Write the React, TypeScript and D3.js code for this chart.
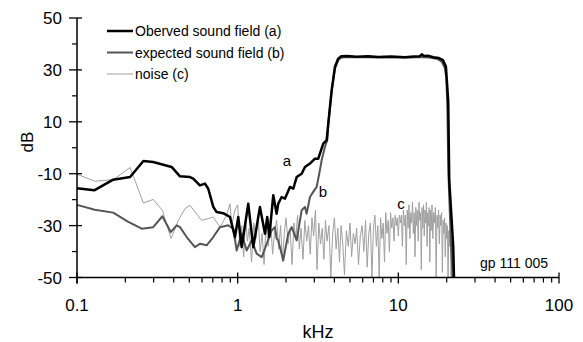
import React from "react";
import * as d3 from "d3";

// Observed sound field (a): [kHz, dB]
const observedA: [number, number][] = [
  [0.1, -15.6], [0.128, -16.4], [0.168, -12.3], [0.214, -11.3], [0.259, -5.1], [0.298, -5.5],
  [0.388, -7.4], [0.4375, -11], [0.505, -11.3], [0.529, -11.9], [0.582, -14.5], [0.626, -13.8],
  [0.656, -15.8], [0.705, -22.8], [0.74, -24.8], [0.813, -25.2], [0.896, -26.7], [0.962, -34.4],
  [1.009, -26.7], [1.059, -38.3], [1.164, -21.6], [1.251, -38.3], [1.376, -22.8], [1.479, -33.1],
  [1.528, -26.7], [1.573, -34.4], [1.666, -18.3], [1.748, -25.4], [1.789, -21.6], [1.878, -19],
  [1.97, -19.6], [2.116, -15.1], [2.218, -15.8], [2.329, -11.3], [2.502, -10], [2.623, -7.4],
  [2.818, -6.1], [3.027, -4.2], [3.174, -4.2], [3.41, 1.6], [3.58, 2.9], [3.664, 9.3],
  [3.846, 22.2], [4.032, 31.2], [4.227, 34.4], [4.437, 35.3], [4.8, 35.4], [5.5, 35.1],
  [6.5, 35.3], [7.5, 35.0], [9, 35.2], [11, 34.9], [12.5, 35.2], [13.6, 35.3], [14, 36],
  [14.4, 35.4], [15.3, 35.5], [16.5, 34.9], [17.8, 34.6], [18.95, 33.8], [19.78, 31.2],
  [20.44, 18], [20.74, -12.5], [21.96, -38], [22.2, -50],
];

// Expected sound field (b)
const expectedB: [number, number][] = [
  [0.1, -22], [0.129, -23.9], [0.168, -25], [0.2086, -28.6], [0.2528, -31.2], [0.298, -30.6],
  [0.34, -26.4], [0.383, -32.5], [0.4174, -29.9], [0.4375, -30.6], [0.4815, -34.4], [0.542, -38.3],
  [0.582, -37], [0.641, -37.6], [0.705, -34.4], [0.776, -30.6], [0.874, -29.9], [0.939, -31.2],
  [0.986, -39.6], [1.059, -33.1], [1.138, -39.6], [1.222, -35.7], [1.313, -40.8], [1.411, -42.2],
  [1.516, -37], [1.628, -31.9], [1.706, -30.6], [1.748, -35], [1.789, -35.7], [1.922, -43.4],
  [2.064, -33.1], [2.168, -30.6], [2.329, -35.7], [2.502, -24.1], [2.623, -22.8], [2.688, -25.4],
  [2.818, -19], [2.954, -17], [3.101, -15.1], [3.219, -10], [3.332, -4.8], [3.493, 0.3],
  [3.611, 2.9], [3.664, 9.0], [3.846, 21.5], [4.032, 30.5], [4.227, 33.8], [4.437, 34.8],
  [4.8, 35.0], [6, 34.9], [8, 34.8], [10, 34.9], [12, 34.8], [14, 35.0], [16, 34.7],
  [17.5, 34.2], [18.6, 33.2], [19.4, 31], [19.9, 27], [20.2, 15], [20.5, -10], [21.2, -35],
  [21.8, -50],
];

// Noise (c)
const noiseC: [number, number][] = [
  [0.1, -10.2], [0.129, -12.9], [0.168, -12.3], [0.214, -7.6], [0.259, -21.3], [0.298, -19.9],
  [0.34, -24.1], [0.385, -35], [0.427, -28], [0.47, -23.5], [0.505, -22.2], [0.597, -28],
  [0.705, -26.7], [0.776, -30.6], [0.854, -26], [0.896, -21.6], [0.918, -29.9], [0.962, -24],
  [1.0, -22], [1.03, -38], [1.06, -30], [1.09, -42], [1.12, -27], [1.15, -36], [1.18, -31],
  [1.22, -44], [1.26, -29], [1.3, -35], [1.34, -26], [1.38, -40], [1.42, -33], [1.46, -45],
  [1.5, -30], [1.55, -38], [1.6, -27], [1.65, -41], [1.7, -32], [1.75, -28], [1.8, -39],
  [1.85, -30], [1.9, -44], [1.95, -33], [2.0, -27], [2.06, -37], [2.12, -31], [2.18, -45],
  [2.24, -29], [2.3, -35], [2.36, -26], [2.42, -39], [2.48, -31], [2.55, -43], [2.62, -28],
  [2.69, -36], [2.76, -30], [2.83, -41], [2.9, -27], [2.97, -34], [3.05, -24], [3.12, -47],
  [3.2, -29], [3.28, -37], [3.36, -31], [3.44, -43], [3.52, -28], [3.6, -36], [3.7, -30],
  [3.8, -50], [3.9, -33], [4.0, -27], [4.1, -39], [4.2, -31], [4.3, -44], [4.4, -30],
  [4.5, -36], [4.62, -49], [4.75, -32], [4.88, -38], [5.0, -29], [5.12, -42], [5.25, -33],
  [5.38, -37], [5.5, -31], [5.65, -45], [5.8, -34], [5.95, -30], [6.1, -40], [6.25, -28],
  [6.4, -46], [6.55, -33], [6.7, -29], [6.85, -50], [7.0, -31], [7.15, -26], [7.3, -38],
  [7.45, -30], [7.6, -50], [7.75, -27], [7.9, -35], [8.05, -29], [8.2, -44], [8.35, -25],
  [8.5, -33], [8.65, -28], [8.8, -40], [8.95, -25], [9.1, -31], [9.25, -27], [9.4, -36],
  [9.55, -26], [9.7, -30], [9.85, -27], [10.0, -34], [10.15, -26], [10.3, -29], [10.45, -26],
  [10.6, -38], [10.75, -24], [10.9, -30], [11.05, -26], [11.2, -45], [11.35, -24], [11.5, -31],
  [11.65, -22], [11.8, -35], [11.95, -25], [12.1, -29], [12.25, -21], [12.4, -33], [12.55, -25],
  [12.7, -42], [12.85, -23], [13.0, -30], [13.15, -24], [13.3, -36], [13.45, -21], [13.6, -28],
  [13.75, -25], [13.9, -47], [14.05, -23], [14.2, -31], [14.35, -22], [14.5, -34], [14.65, -24],
  [14.8, -29], [14.95, -21], [15.1, -38], [15.25, -25], [15.4, -30], [15.55, -23], [15.7, -44],
  [15.85, -24], [16.0, -32], [16.2, -22], [16.4, -35], [16.6, -25], [16.8, -29], [17.0, -23],
  [17.2, -50], [17.4, -26], [17.6, -31], [17.8, -24], [18.0, -37], [18.2, -26], [18.4, -30],
  [18.6, -25], [18.8, -48], [19.0, -28], [19.2, -33], [19.4, -27], [19.6, -42], [19.8, -29],
  [20.0, -35], [20.2, -30], [20.4, -50], [20.6, -32], [20.8, -38], [21.0, -31], [21.3, -50],
  [21.6, -36], [21.9, -50], [22.2, -50],
];

const yMajor = [50, 30, 10, -10, -30, -50];
const yMinor = [40, 20, 0, -20, -40];
const xMajor = [0.1, 1, 10, 100];
const xMajorLabels = ["0.1", "1", "10", "100"];
const xMinor = [0.2, 0.3, 0.4, 0.5, 0.6, 0.7, 0.8, 0.9, 2, 3, 4, 5, 6, 7, 8, 9, 20, 30, 40, 50, 60, 70, 80, 90];

const legendItems = [
  { label: "Oberved sound field (a)", color: "#000", width: 2.5 },
  { label: "expected sound field (b)", color: "#555", width: 2 },
  { label: "noise (c)", color: "#a0a0a0", width: 1 },
];

const W = 583;
const H = 342;
const FONT = "'Liberation Sans', Arial, Helvetica, sans-serif";

export default function App() {
  const x = d3.scaleLog().domain([0.1, 100]).range([77, 559]);
  const y = d3.scaleLinear().domain([-50, 50]).range([277.5, 18]);
  const line = d3
    .line<[number, number]>()
    .x((d) => x(d[0]))
    .y((d) => y(d[1]));

  const x0 = x(0.1);
  const yBase = y(-50);

  return (
    <svg width={W} height={H} style={{ position: "absolute", left: 0, top: 0, background: "#fff" }} fontFamily={FONT}>
      <rect width={W} height={H} fill="#fff" />
      {/* series */}
      <path d={line(noiseC) || ""} fill="none" stroke="#a0a0a0" strokeWidth={1} strokeLinejoin="round" />
      <path d={line(expectedB) || ""} fill="none" stroke="#555" strokeWidth={2} strokeLinejoin="round" />
      <path d={line(observedA) || ""} fill="none" stroke="#000" strokeWidth={2.5} strokeLinejoin="round" />

      {/* y axis */}
      <line x1={x0} x2={x0} y1={y(50)} y2={yBase + 6} stroke="#000" strokeWidth={1.5} />
      {yMajor.map((v) => (
        <g key={"ym" + v}>
          <line x1={x0 - 8} x2={x0 + 5} y1={y(v)} y2={y(v)} stroke="#000" strokeWidth={1.3} />
          <text x={62} y={y(v)} dy="0.36em" textAnchor="end" fontSize={17}>
            {v}
          </text>
        </g>
      ))}
      {yMinor.map((v) => (
        <line key={"yn" + v} x1={x0 - 5} x2={x0} y1={y(v)} y2={y(v)} stroke="#000" strokeWidth={1.2} />
      ))}

      {/* x axis */}
      <line x1={x0} x2={x(100)} y1={yBase} y2={yBase} stroke="#000" strokeWidth={1.5} />
      {xMajor.map((v, i) => (
        <g key={"xm" + v}>
          <line x1={x(v)} x2={x(v)} y1={yBase - 5} y2={yBase + 6} stroke="#000" strokeWidth={1.3} />
          <text x={x(v)} y={311} textAnchor="middle" fontSize={17}>
            {xMajorLabels[i]}
          </text>
        </g>
      ))}
      {xMinor.map((v) => (
        <line key={"xn" + v} x1={x(v)} x2={x(v)} y1={yBase} y2={yBase + 5} stroke="#000" strokeWidth={1.2} />
      ))}

      {/* axis titles */}
      <text x={318} y={338} textAnchor="middle" fontSize={18}>
        kHz
      </text>
      <text transform="translate(33,142) rotate(-90)" textAnchor="middle" fontSize={17}>
        dB
      </text>

      {/* legend */}
      {legendItems.map((it, i) => (
        <g key={it.label}>
          <line x1={107} x2={133} y1={31 + i * 21.5} y2={31 + i * 21.5} stroke={it.color} strokeWidth={it.width} />
          <text x={135} y={31 + i * 21.5} dy="0.36em" fontSize={14}>
            {it.label}
          </text>
        </g>
      ))}

      {/* annotations */}
      <text x={287} y={161} dy="0.36em" textAnchor="middle" fontSize={15}>a</text>
      <text x={323} y={192} dy="0.36em" textAnchor="middle" fontSize={15}>b</text>
      <text x={401} y={204} dy="0.36em" textAnchor="middle" fontSize={15}>c</text>
      <text x={480} y={263} dy="0.36em" fontSize={14}>gp 111 005</text>
    </svg>
  );
}
